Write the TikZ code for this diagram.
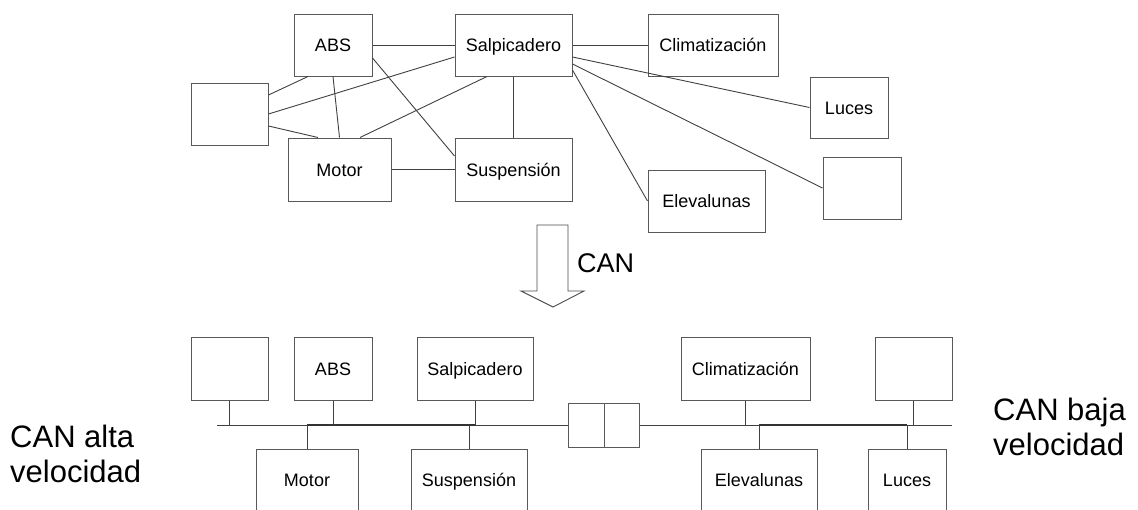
\documentclass[tikz,border=0pt]{standalone}
\usepackage{fontspec}
\setmainfont{Liberation Sans}
\usetikzlibrary{calc}

\tikzset{
  ecu/.style={draw=black!65, line width=1pt, fill=white, inner sep=0pt,
    minimum height=62pt, text height=13pt, text depth=0pt,
    font=\fontsize{18}{20}\selectfont, text=black},
  link/.style={draw=black!75, line width=0.9pt},
  bus/.style={draw=black!75, line width=0.9pt},
  busdup/.style={draw=black!80, line width=1.2pt},
  sidelabel/.style={font=\fontsize{31}{35}\selectfont, align=left, inner sep=0pt},
}

\begin{document}
\begin{tikzpicture}[x=1pt, y=-1pt]
\useasboundingbox (0,0) rectangle (1138,509);
\clip (0,0) rectangle (1138,509);

% ---------- point-to-point wiring ----------
\node[ecu, minimum width=77pt]  (t0)   at (229.5,114)   {};
\node[ecu, minimum width=78pt]  (tabs) at (333,45)      {ABS};
\node[ecu, minimum width=117pt] (tsal) at (513.5,45)    {Salpicadero};
\node[ecu, minimum width=130pt] (tcli) at (713,45)      {Climatización};
\node[ecu, minimum width=78pt, minimum height=61pt] (tluc) at (849,107.5) {Luces};
\node[ecu, minimum width=78pt]  (t9)   at (862,188)     {};
\node[ecu, minimum width=117pt] (tele) at (706.5,201)   {Elevalunas};
\node[ecu, minimum width=103pt, minimum height=63pt] (tmot) at (339.5,169.5) {Motor};
\node[ecu, minimum width=117pt, minimum height=63pt] (tsus) at (513.5,169.5) {Suspensión};

\draw[link] (tabs.east) -- (tsal.west);
\draw[link] (tsal.east) -- (tcli.west);
\draw[link] ([yshift=19pt]t0.east) -- ([xshift=-25pt]tabs.south);
\draw[link] (t0.east) -- ([yshift=-12pt]tsal.west);
\draw[link] ([yshift=-12pt]t0.east) -- ([xshift=-21.5pt]tmot.north);
\draw[link] (tabs.south) -- (tmot.north);
\draw[link] ([yshift=-13pt]tabs.east) -- ([yshift=13.5pt]tsus.west);
\draw[link] ([xshift=-26.5pt]tsal.south) -- ([xshift=20.5pt]tmot.north);
\draw[link] (tsal.south) -- (tsus.north);
\draw[link] (tmot.east) -- (tsus.west);
\draw[link] ([yshift=-12pt]tsal.east) -- (tluc.west);
\draw[link] ([yshift=-19pt]tsal.east) -- (t9.west);
\draw[link] ([yshift=-25pt]tsal.east) -- (tele.west);

% ---------- transition arrow ----------
\draw[draw=black!70, line width=0.9pt, fill=white]
  (537,225) -- (568,225) -- (568,291) -- (584,291) -- (553,307)
  -- (521,291) -- (537,291) -- cycle;
\node[anchor=base west, inner sep=0pt, font=\fontsize{27}{30}\selectfont]
  (canlbl) at (577,272) {CAN};

% ---------- CAN bus ----------
\coordinate (busL) at (217,425);
\coordinate (busR) at (952,425);

\node[ecu, minimum width=77pt,  minimum height=63pt] (b0)   at (229.5,368.5) {};
\node[ecu, minimum width=78pt,  minimum height=63pt] (babs) at (333,368.5)   {ABS};
\node[ecu, minimum width=116pt, minimum height=63pt] (bsal) at (475,368.5)   {Salpicadero};
\node[ecu, minimum width=129pt, minimum height=63pt] (bcli) at (745.5,368.5) {Climatización};
\node[ecu, minimum width=77pt,  minimum height=63pt] (b9)   at (913.5,368.5) {};
\node[ecu, minimum width=102pt] (bmot) at (307,480) {Motor};
\node[ecu, minimum width=116pt] (bsus) at (469,480) {Suspensión};
\node[ecu, minimum width=116pt] (bele) at (759,480) {Elevalunas};
\node[ecu, minimum width=78pt]  (bluc) at (907,480) {Luces};

% gateway between both buses
\node[ecu, minimum width=36pt, minimum height=44pt] (gwl) at (586,425)   {};
\node[ecu, minimum width=35pt, minimum height=44pt] (gwr) at (621.5,425) {};

\draw[bus] (busL) -- (gwl.west);
\draw[bus] (gwr.east) -- (busR);
\draw[busdup] (bmot.north |- busL) -- (bsal.south |- busL);
\draw[busdup] (bele.north |- busR) -- (bluc.north |- busR);

\foreach \n in {b0,babs,bsal,bcli,b9}
  \draw[bus] (\n.south) -- (\n.south |- busL);
\foreach \n in {bmot,bsus,bele,bluc}
  \draw[bus] (\n.north) -- (\n.north |- busL);

% ---------- bus names ----------
\node[sidelabel, anchor=north west] (alta) at (10,425) {CAN alta\\velocidad};
\node[sidelabel, anchor=north west] (baja) at (993,398) {CAN baja\\velocidad};

\end{tikzpicture}
\end{document}
